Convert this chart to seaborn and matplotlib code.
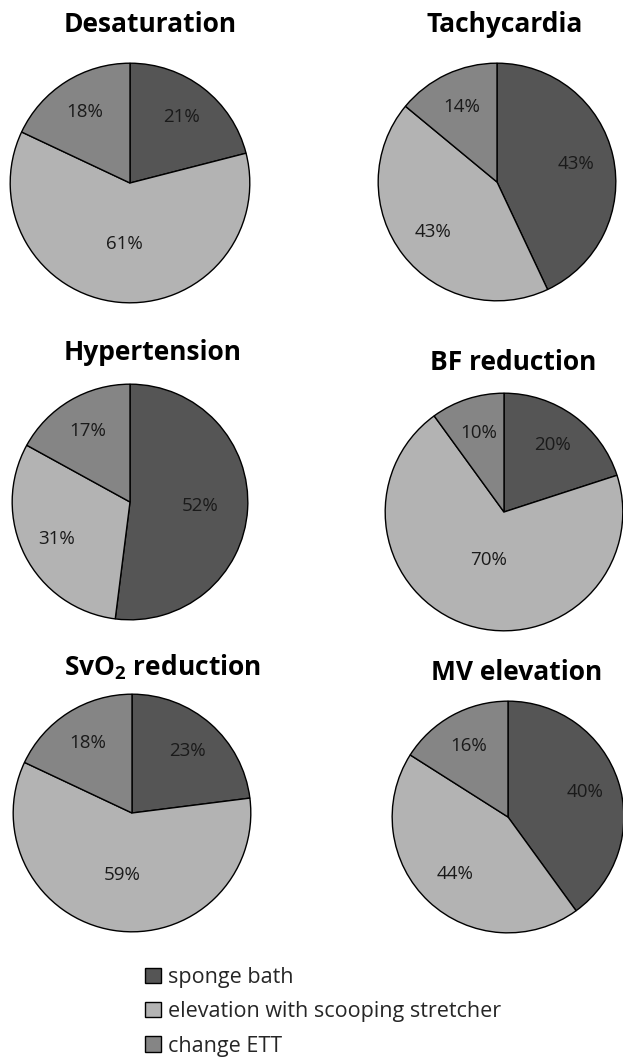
import numpy as np
import pandas as pd
import seaborn as sns
import matplotlib
matplotlib.use("Agg")
import matplotlib.pyplot as plt

sns.set_theme(style="white")
plt.rcParams['font.family'] = ['Open Sans', 'DejaVu Sans']
plt.rcParams['mathtext.fontset'] = 'custom'
plt.rcParams['mathtext.rm'] = 'Open Sans:bold'
plt.rcParams['mathtext.it'] = 'Open Sans:bold'

# data
categories = ["sponge bath", "elevation with scooping stretcher", "change ETT"]
titles = ["Desaturation", "Tachycardia", "Hypertension", "BF reduction",
          "SvO$_2$ reduction", "MV elevation"]
sponge_bath = [21, 43, 52, 20, 23, 40]
elevation = [61, 43, 31, 70, 59, 44]
change_ett = [18, 14, 17, 10, 18, 16]
colors = ["#555555", "#b3b3b3", "#858585"]

# pixel layout: center x, center y, radius, title x, title y
layout = [
    (130, 183, 121, 150, 24),
    (497, 182, 120, 505, 25),
    (130, 502, 119, 153, 353),
    (504, 512, 120, 513, 363),
    (132, 813, 120, 163, 667),
    (508, 817, 117, 517, 673),
]

W, H = 623, 1060
fig = plt.figure(figsize=(W / 100, H / 100), dpi=100)


def label_radius(frac):
    # big slices get their label nearer the centre, like Excel's best fit
    if frac < 0.43:
        return 0.70
    return 0.68 - (frac - 0.43) * 0.93


wedges_ref = None
for i, (cx, cy, r, tx, ty) in enumerate(layout):
    ax = fig.add_axes([(cx - r) / W, (H - cy - r) / H, 2 * r / W, 2 * r / H])
    vals = [sponge_bath[i], elevation[i], change_ett[i]]
    wedges, texts, autotexts = ax.pie(
        vals, colors=colors, startangle=90, counterclock=False,
        autopct=lambda p: f"{p:.0f}%", pctdistance=0.6,
        wedgeprops=dict(edgecolor="black", linewidth=1.0),
        textprops=dict(fontsize=13.5, color="#1a1a1a"))
    total = float(sum(vals))
    for w, t, v in zip(wedges, autotexts, vals):
        ang = np.deg2rad((w.theta1 + w.theta2) / 2)
        d = label_radius(v / total)
        t.set_position((d * np.cos(ang), d * np.sin(ang)))
    ax.set_xlim(-1.01, 1.01)
    ax.set_ylim(-1.01, 1.01)
    ax.set_aspect("equal")
    ax.axis("off")
    fig.text(tx / W, 1 - ty / H, titles[i], ha="center", va="center",
             fontsize=19, fontweight="bold", color="black")
    if wedges_ref is None:
        wedges_ref = wedges

fig.legend(wedges_ref, categories, loc="upper left",
           bbox_to_anchor=(145 / W, 1 - 967 / H), frameon=False,
           borderpad=0, borderaxespad=0,
           fontsize=15.5, handlelength=0.72, handleheight=0.72,
           handletextpad=0.35, labelspacing=0.62)

fig.savefig("out.png", dpi=100, facecolor="white")
